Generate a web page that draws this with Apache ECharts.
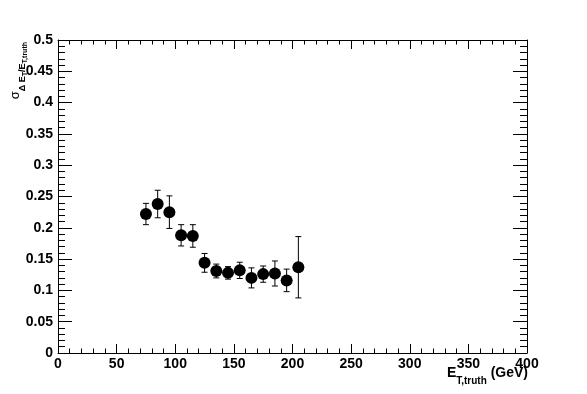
<!DOCTYPE html>
<html>
<head>
<meta charset="utf-8">
<script src="https://cdn.jsdelivr.net/npm/echarts@6/dist/echarts.min.js"></script>
<style>
html,body{margin:0;padding:0;background:#fff;}
#chart{width:587px;height:394px;}
</style>
</head>
<body>
<div id="chart"></div>
<script>
// Data
const xValues = [75, 85, 95, 105, 115, 125, 135, 145, 155, 165, 175, 185, 195, 205];
const yValues = [0.222, 0.238, 0.225, 0.188, 0.187, 0.144, 0.131, 0.128, 0.132, 0.120, 0.126, 0.127, 0.116, 0.137];
const yErrors = [0.017, 0.022, 0.026, 0.017, 0.018, 0.015, 0.011, 0.010, 0.013, 0.016, 0.013, 0.020, 0.018, 0.049];
const xTickLabels = ['0', '50', '100', '150', '200', '250', '300', '350', '400'];
const yTickLabels = ['0', '0.05', '0.1', '0.15', '0.2', '0.25', '0.3', '0.35', '0.4', '0.45', '0.5'];

const pointData = xValues.map((x, i) => [x, yValues[i]]);
const errData = xValues.map((x, i) => [x, yValues[i] - yErrors[i], yValues[i] + yErrors[i]]);

const FONT = '"Liberation Sans", Arial, Helvetica, sans-serif';
const labelStyle = { color: '#000', fontFamily: FONT, fontWeight: 'bold', fontSize: 14 };

const chart = echarts.init(document.getElementById('chart'), null, { renderer: 'canvas' });

function xAxisDef(pos, showLabels) {
  return {
    type: 'value', position: pos, min: 0, max: 400, interval: 50,
    axisLine: { show: true, onZero: false, lineStyle: { color: '#000', width: 1 } },
    axisTick: { show: true, inside: true, length: 9, lineStyle: { color: '#000' } },
    minorTick: { show: true, splitNumber: 5, length: 4.5, lineStyle: { color: '#000' } },
    splitLine: { show: false },
    axisLabel: showLabels ? Object.assign({ margin: 4, formatter: (v) => xTickLabels[Math.round(v / 50)] }, labelStyle) : { show: false }
  };
}
function yAxisDef(pos, showLabels) {
  return {
    type: 'value', position: pos, min: 0, max: 0.5, interval: 0.05,
    axisLine: { show: true, onZero: false, lineStyle: { color: '#000', width: 1 } },
    axisTick: { show: true, inside: true, length: 14, lineStyle: { color: '#000' } },
    minorTick: { show: true, splitNumber: 5, length: 7, lineStyle: { color: '#000' } },
    splitLine: { show: false },
    axisLabel: showLabels ? Object.assign({ margin: 5, formatter: (v) => yTickLabels[Math.round(v / 0.05)] }, labelStyle) : { show: false }
  };
}

const option = {
  animation: false,
  backgroundColor: '#fff',
  grid: { left: 58, right: 60, top: 40, bottom: 41, containLabel: false },
  xAxis: [xAxisDef('bottom', true), xAxisDef('top', false)],
  yAxis: [yAxisDef('left', true), yAxisDef('right', false)],
  series: [
    {
      type: 'custom',
      xAxisIndex: 0, yAxisIndex: 0,
      data: errData,
      z: 1,
      renderItem: function (params, api) {
        const x = api.value(0);
        const lo = api.coord([x, api.value(1)]);
        const hi = api.coord([x, api.value(2)]);
        const cap = 3;
        const st = { stroke: '#000', lineWidth: 1 };
        return {
          type: 'group',
          children: [
            { type: 'line', shape: { x1: lo[0], y1: lo[1], x2: hi[0], y2: hi[1] }, style: st },
            { type: 'line', shape: { x1: lo[0] - cap, y1: lo[1], x2: lo[0] + cap, y2: lo[1] }, style: st },
            { type: 'line', shape: { x1: hi[0] - cap, y1: hi[1], x2: hi[0] + cap, y2: hi[1] }, style: st }
          ]
        };
      }
    },
    {
      type: 'scatter',
      xAxisIndex: 0, yAxisIndex: 0,
      data: pointData,
      symbol: 'circle',
      symbolSize: 12,
      z: 2,
      itemStyle: { color: '#000', opacity: 1 }
    }
  ],
  graphic: [
    {
      type: 'text',
      right: 59,
      top: 366,
      style: {
        text: '{b|E}{s|T,truth}{b| (GeV)}',
        fill: '#000',
        rich: {
          b: { fontFamily: FONT, fontWeight: 'bold', fontSize: 14, verticalAlign: 'top', lineHeight: 20, fill: '#000' },
          s: { fontFamily: FONT, fontWeight: 'bold', fontSize: 10, verticalAlign: 'bottom', lineHeight: 20, fill: '#000' }
        }
      }
    },
    {
      type: 'text',
      x: 19,
      y: 42,
      rotation: Math.PI / 2,
      style: {
        text: '{s|σ}{a|Δ E}{b|T}{a|/E}{b|T,truth}',
        align: 'right',
        verticalAlign: 'middle',
        fill: '#000',
        rich: {
          s: { fontFamily: FONT, fontSize: 13, verticalAlign: 'top', lineHeight: 20, fill: '#000' },
          a: { fontFamily: FONT, fontWeight: 'bold', fontSize: 9, verticalAlign: 'bottom', lineHeight: 20, padding: [0, 0, 2, 0], fill: '#000' },
          b: { fontFamily: FONT, fontWeight: 'bold', fontSize: 7, verticalAlign: 'bottom', lineHeight: 20, fill: '#000' }
        }
      }
    }
  ]
};
chart.setOption(option);
</script>
</body>
</html>
